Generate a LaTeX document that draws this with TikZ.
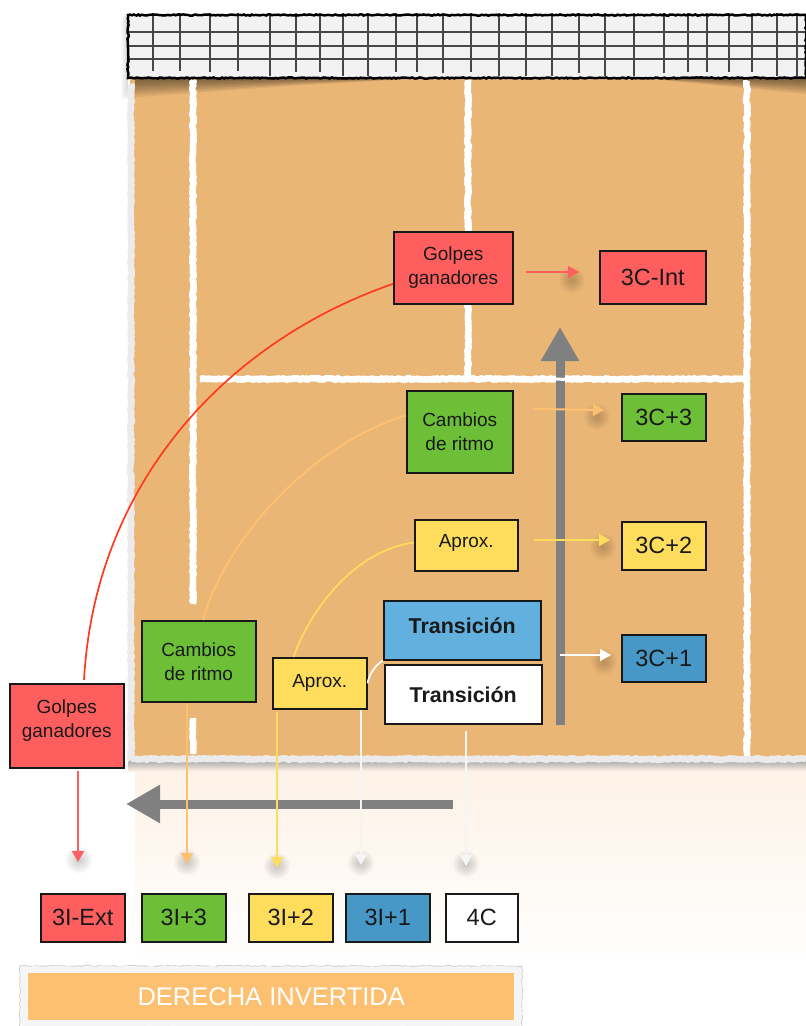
\documentclass[tikz,border=0pt]{standalone}
\usepackage{fontspec}
\setmainfont{Liberation Sans}
\usetikzlibrary{arrows.meta,decorations.pathmorphing,calc}
\definecolor{court}{HTML}{EAB676}
\definecolor{cred}{HTML}{FF5E5E}
\definecolor{cgreen}{HTML}{6DBF37}
\definecolor{cyellow}{HTML}{FFDD5C}
\definecolor{cblue}{HTML}{62B0DD}
\definecolor{cdblue}{HTML}{4797C7}
\definecolor{corange}{HTML}{FDC070}
\definecolor{cband}{HTML}{FDC070}
\definecolor{cfade}{HTML}{FDF2E6}
\definecolor{cgrey}{HTML}{808080}
\definecolor{cline}{HTML}{FF3B1E}
\tikzset{
 lab/.style={draw=black!90,line width=1.5pt,inner sep=0pt,align=center,text=black!90,font=\fontsize{19}{24}\selectfont,anchor=north west},
 tag/.style={lab,font=\fontsize{23.5}{26}\selectfont},
 chalk/.style={draw=white,line width=6.5pt,line join=round,line cap=butt,decorate,decoration={random steps,segment length=1.6pt,amplitude=.9pt}},
 rim/.style={draw=white!92!black,line width=6.5pt,line join=round,decorate,decoration={random steps,segment length=2pt,amplitude=.9pt}},
 conn/.style={line width=1.6pt,-{Triangle[length=11pt,width=12pt]}},
 curveline/.style={line width=1.7pt},
 bigarrow/.style={draw=cgrey,line width=9pt,-{Triangle[length=34pt,width=36pt]}},
 softshadow/.style={fill=black,opacity=.03,draw=none},
 netgrid/.style={draw=black!72,line width=1.1pt},
}
\begin{document}
\begin{tikzpicture}[x=1pt,y=-1pt]
\useasboundingbox (0,0) rectangle (806,1026);
% lower fade
\shade[top color=cfade,bottom color=white,draw=none] (135,768) rectangle (806,965);
% shadow under court
\shade[top color=black!35,bottom color=cfade,draw=none] (128,760) rectangle (806,771);
% court
\fill[court] (130,78) rectangle (806,760);
% net shadow on court
\foreach \i in {1,...,8} {
  \fill[black,opacity=.07] (135,78) -- (135,78+2.4*\i) -- (300,78+.9*\i) -- (430,78) -- cycle;
  \fill[black,opacity=.07] (640,78) -- (806,78+2*\i) -- (806,78) -- cycle;
  \fill[black,opacity=.02] (120+\i,16) rectangle (128,100-\i);
}
% court rim
\draw[rim] (131,84) -- (131,760);
\draw[rim] (131,759) -- (806,759);
% court lines
\draw[chalk] (193,80) -- (193,604);
\draw[chalk] (193,718) -- (193,754);
\draw[chalk] (468,80) -- (468,378);
\draw[chalk] (747,80) -- (747,756);
\draw[chalk] (200,379) -- (747,379);
% net
\fill[white!95!black] (128,15) rectangle (806,78);
\foreach \y in {32,46,59} \draw[netgrid] (128,\y) -- (806,\y);
\foreach \x/\e in {153/71,180/71,210/72,238/71,270/76,296/72,320/72,343/76,368/76,396/72,417/72,443/73,471/72,499/76,526/76,552/76,579/73,605/76,634/76,664/73,688/72,707/72,729/72,752/72,777/76,797/76}
  \draw[netgrid] (\x,13) -- (\x,\e);
\draw[black,line width=2.5pt,decorate,decoration={random steps,segment length=2pt,amplitude=.6pt}] (128,15) rectangle (806,78);
% big arrows
\coordinate (upA) at (560,725);
\coordinate (upB) at (560,327);
\coordinate (leftA) at (453,804);
\coordinate (leftB) at (126,804);
\draw[bigarrow] (upA) -- (upB);
\draw[bigarrow] (leftA) -- (leftB);
% chalk line passes over the arrow
\draw[white,line width=3pt,line join=round,decorate,decoration={random steps,segment length=2pt,amplitude=.8pt}] (553,379) -- (567,379);
% soft shadows of arrow tips
\foreach \x/\y in {572/280,597/417,603/547,604/662,79/860,187/862,277/866,361/863,466/864}
  \foreach \r in {3,5,7,9,11,13}
    \fill[softshadow] (\x,\y) circle (\r);
% nodes
\node[lab,fill=cred,minimum width=119pt,minimum height=72pt] (gt) at (393,231) {Golpes\\ganadores};
\node[tag,fill=cred,minimum width=106pt,minimum height=53pt] (t3ci) at (599,250) {3C-Int};
\node[lab,fill=cgreen,minimum width=106pt,minimum height=82pt] (ct) at (406,390) {Cambios\\de ritmo};
\node[tag,fill=cgreen,minimum width=84pt,minimum height=47pt] (t3c3) at (621,393) {3C+3};
\node[lab,fill=cyellow,minimum width=103pt,minimum height=51pt,text depth=9pt] (at) at (414,519) {Aprox.};
\node[tag,fill=cyellow,minimum width=84pt,minimum height=48pt] (t3c2) at (621,521) {3C+2};
\node[lab,fill=cblue,minimum width=157pt,minimum height=59pt,font=\fontsize{21.4}{24}\selectfont\bfseries,text depth=10pt] (tb) at (383,600) {Transición};
\node[lab,fill=white,minimum width=157pt,minimum height=59pt,font=\fontsize{21.4}{24}\selectfont\bfseries] (tw) at (384,664) {Transición};
\node[tag,fill=cdblue,minimum width=84pt,minimum height=47pt] (t3c1) at (621,634) {3C+1};
\node[lab,fill=cgreen,minimum width=114pt,minimum height=81pt] (cl) at (141,620) {Cambios\\de ritmo};
\node[lab,fill=cyellow,minimum width=94pt,minimum height=51pt] (al) at (272,657) {Aprox.};
\node[lab,fill=cred,minimum width=114pt,minimum height=84pt,text depth=14pt] (gl) at (9,683) {Golpes\\ganadores};
\node[tag,fill=cred,minimum width=84pt,minimum height=48pt] (b1) at (40,893) {3I-Ext};
\node[tag,fill=cgreen,minimum width=84pt,minimum height=48pt] (b2) at (141,893) {3I+3};
\node[tag,fill=cyellow,minimum width=84pt,minimum height=48pt] (b3) at (248,893) {3I+2};
\node[tag,fill=cdblue,minimum width=84pt,minimum height=48pt] (b4) at (345,893) {3I+1};
\node[tag,fill=white,minimum width=72pt,minimum height=48pt] (b5) at (445,893) {4C};
% curved connectors
\draw[curveline,cline] (gt.195) .. controls (230,340) and (95,480) .. ($(gl.68)+(0,-3)$);
\draw[curveline,corange,line width=2pt] (ct.163) .. controls (310,445) and (225,540) .. (cl.84);
\draw[curveline,cyellow] (at.177) .. controls (355,550) and (310,610) .. (al.135);
\draw[curveline,white] (tb.south west) .. controls (375,665) and (369,675) .. (al.east);
% straight connectors
\coordinate (r1a) at (526,272); \coordinate (r1b) at (579,272);
\coordinate (o1a) at (533,409); \coordinate (o1b) at (604,410);
\coordinate (y1a) at (534,540); \coordinate (y1b) at (610,540);
\coordinate (w1a) at (560,655); \coordinate (w1b) at (611,655);
\coordinate (r2a) at (78,771);  \coordinate (r2b) at (78,862);
\coordinate (o2a) at (187,703); \coordinate (o2b) at (187,864);
\coordinate (y2a) at (277,712); \coordinate (y2b) at (277,868);
\coordinate (w2a) at (361,710); \coordinate (w2b) at (361,865);
\coordinate (w3a) at (466,731); \coordinate (w3b) at (466,866);
\draw[conn,cred] (r1a) -- (r1b);
\draw[conn,corange,line width=2pt] (o1a) -- (o1b);
\draw[conn,cyellow] (y1a) -- (y1b);
\draw[conn,white] (w1a) -- (w1b);
\draw[conn,cred] (r2a) -- (r2b);
\draw[conn,corange,line width=2pt] (o2a) -- (o2b);
\draw[conn,cyellow] (y2a) -- (y2b);
\draw[conn,white!96!black] (w2a) -- (w2b);
\draw[conn,white!96!black] (w3a) -- (w3b);
% title band
\draw[black!18,line width=1pt,line join=round,decorate,decoration={random steps,segment length=3pt,amplitude=.7pt}] (20,966) rectangle (522,1028);
\draw[rim,draw=white!96!black] (24,970) rectangle (518,1023);
\node[fill=cband,minimum width=486pt,minimum height=47pt,inner sep=0pt,anchor=north west,text=white,font=\fontsize{25.5}{28}\selectfont] (band) at (28,973) {DERECHA INVERTIDA};
\end{tikzpicture}
\end{document}
